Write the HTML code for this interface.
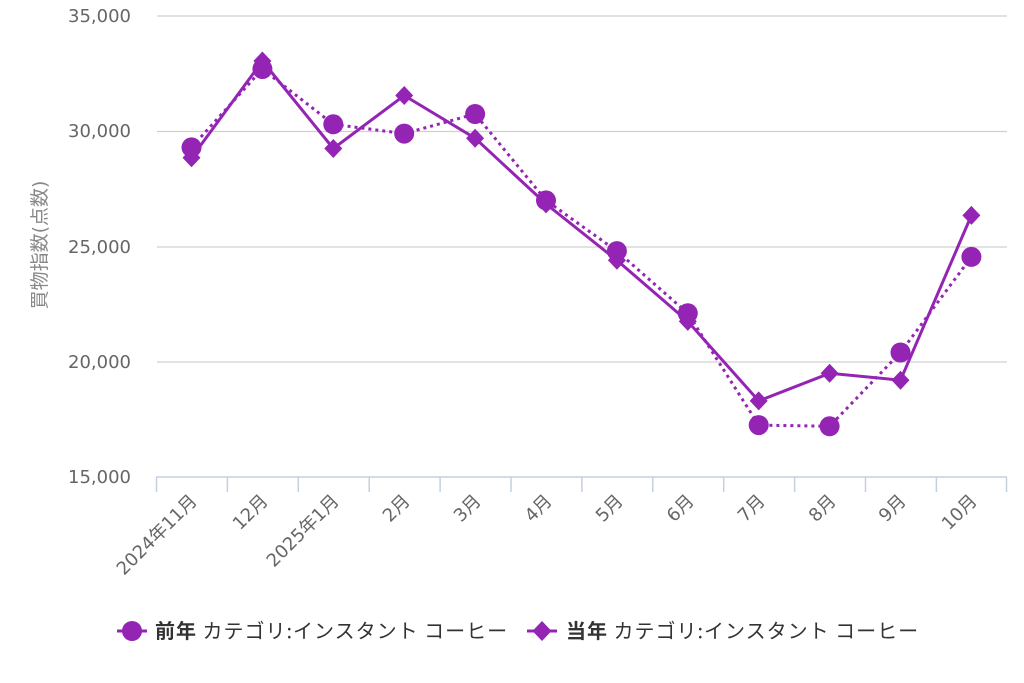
<!DOCTYPE html>
<html><head><meta charset="utf-8"><style>
html,body{margin:0;padding:0;background:#fff;}
svg{display:block;font-family:"DejaVu Sans","Liberation Sans","Noto Sans CJK JP",sans-serif;}
</style></head><body>
<svg width="1024" height="683" viewBox="0 0 1024 683" xmlns="http://www.w3.org/2000/svg">
<g stroke="#d0d0d0" stroke-width="1.3">
<line x1="157" y1="16" x2="1007" y2="16"/>
<line x1="157" y1="131.5" x2="1007" y2="131.5"/>
<line x1="157" y1="247" x2="1007" y2="247"/>
<line x1="157" y1="362" x2="1007" y2="362"/>
</g>
<g stroke="#c2d0e0" stroke-width="1.5">
<line x1="156" y1="477" x2="1007" y2="477"/>
<line x1="156.5" y1="477" x2="156.5" y2="492"/>
<line x1="227.4" y1="477" x2="227.4" y2="492"/>
<line x1="298.3" y1="477" x2="298.3" y2="492"/>
<line x1="369.2" y1="477" x2="369.2" y2="492"/>
<line x1="440.1" y1="477" x2="440.1" y2="492"/>
<line x1="511" y1="477" x2="511" y2="492"/>
<line x1="581.9" y1="477" x2="581.9" y2="492"/>
<line x1="652.8" y1="477" x2="652.8" y2="492"/>
<line x1="723.7" y1="477" x2="723.7" y2="492"/>
<line x1="794.6" y1="477" x2="794.6" y2="492"/>
<line x1="865.5" y1="477" x2="865.5" y2="492"/>
<line x1="936.4" y1="477" x2="936.4" y2="492"/>
<line x1="1006.5" y1="477" x2="1006.5" y2="492"/>
</g>
<g fill="#666" font-size="18" text-anchor="end">
<text x="131" y="22">35,000</text>
<text x="131" y="137">30,000</text>
<text x="131" y="253">25,000</text>
<text x="131" y="368">20,000</text>
<text x="131" y="483">15,000</text>
</g>
<text transform="translate(46,245) rotate(-90)" fill="#888" font-size="19" text-anchor="middle">買物指数(点数)</text>
<g fill="#666" font-size="18" text-anchor="end">
<text transform="translate(198,502) rotate(-45)">2024年11月</text>
<text transform="translate(269,502) rotate(-45)">12月</text>
<text transform="translate(340,502) rotate(-45)">2025年1月</text>
<text transform="translate(411,502) rotate(-45)">2月</text>
<text transform="translate(482,502) rotate(-45)">3月</text>
<text transform="translate(553,502) rotate(-45)">4月</text>
<text transform="translate(624,502) rotate(-45)">5月</text>
<text transform="translate(695,502) rotate(-45)">6月</text>
<text transform="translate(766,502) rotate(-45)">7月</text>
<text transform="translate(837,502) rotate(-45)">8月</text>
<text transform="translate(907,502) rotate(-45)">9月</text>
<text transform="translate(978,502) rotate(-45)">10月</text>
</g>
<polyline fill="none" stroke="#9424b4" stroke-width="3" stroke-dasharray="3,4" points="191.5,147.4 262.4,69 333.3,124.3 404.2,133.6 475.1,114 546,200.4 616.9,251.1 687.8,313.3 758.7,425.1 829.6,426.3 900.5,352.5 971.4,256.9"/>
<polyline fill="none" stroke="#9424b4" stroke-width="3" points="191.5,157.8 262.4,61 333.3,148.5 404.2,95.5 475.1,138.2 546,203.9 616.9,260.3 687.8,321.4 758.7,400.9 829.6,373.3 900.5,380.2 971.4,215.4"/>
<g fill="#9424b4">
<circle cx="191.5" cy="147.4" r="10"/><circle cx="262.4" cy="69" r="10"/><circle cx="333.3" cy="124.3" r="10"/><circle cx="404.2" cy="133.6" r="10"/><circle cx="475.1" cy="114" r="10"/><circle cx="546" cy="200.4" r="10"/><circle cx="616.9" cy="251.1" r="10"/><circle cx="687.8" cy="313.3" r="10"/><circle cx="758.7" cy="425.1" r="10"/><circle cx="829.6" cy="426.3" r="10"/><circle cx="900.5" cy="352.5" r="10"/><circle cx="971.4" cy="256.9" r="10"/>
</g>
<g fill="#9424b4">
<path d="M191.5,148.3l9,9.5-9,9.5-9-9.5z"/>
<path d="M262.4,51.5l9,9.5-9,9.5-9-9.5z"/>
<path d="M333.3,139l9,9.5-9,9.5-9-9.5z"/>
<path d="M404.2,86l9,9.5-9,9.5-9-9.5z"/>
<path d="M475.1,128.7l9,9.5-9,9.5-9-9.5z"/>
<path d="M546,194.4l9,9.5-9,9.5-9-9.5z"/>
<path d="M616.9,250.8l9,9.5-9,9.5-9-9.5z"/>
<path d="M687.8,311.9l9,9.5-9,9.5-9-9.5z"/>
<path d="M758.7,391.4l9,9.5-9,9.5-9-9.5z"/>
<path d="M829.6,363.8l9,9.5-9,9.5-9-9.5z"/>
<path d="M900.5,370.7l9,9.5-9,9.5-9-9.5z"/>
<path d="M971.4,205.9l9,9.5-9,9.5-9-9.5z"/>
</g>
<g font-family="'Noto Sans CJK JP',sans-serif" font-size="20" fill="#333" letter-spacing="1">
<line x1="117" y1="631" x2="147" y2="631" stroke="#9424b4" stroke-width="3"/>
<circle cx="132" cy="631" r="10" fill="#9424b4"/>
<text x="155" y="638"><tspan font-weight="bold">前年</tspan> カテゴリ:インスタント コーヒー</text>
<line x1="527" y1="631" x2="557" y2="631" stroke="#9424b4" stroke-width="3"/>
<path d="M542,621l9.5,10-9.5,10-9.5-10z" fill="#9424b4"/>
<text x="566" y="638"><tspan font-weight="bold">当年</tspan> カテゴリ:インスタント コーヒー</text>
</g>
</svg>
</body></html>
